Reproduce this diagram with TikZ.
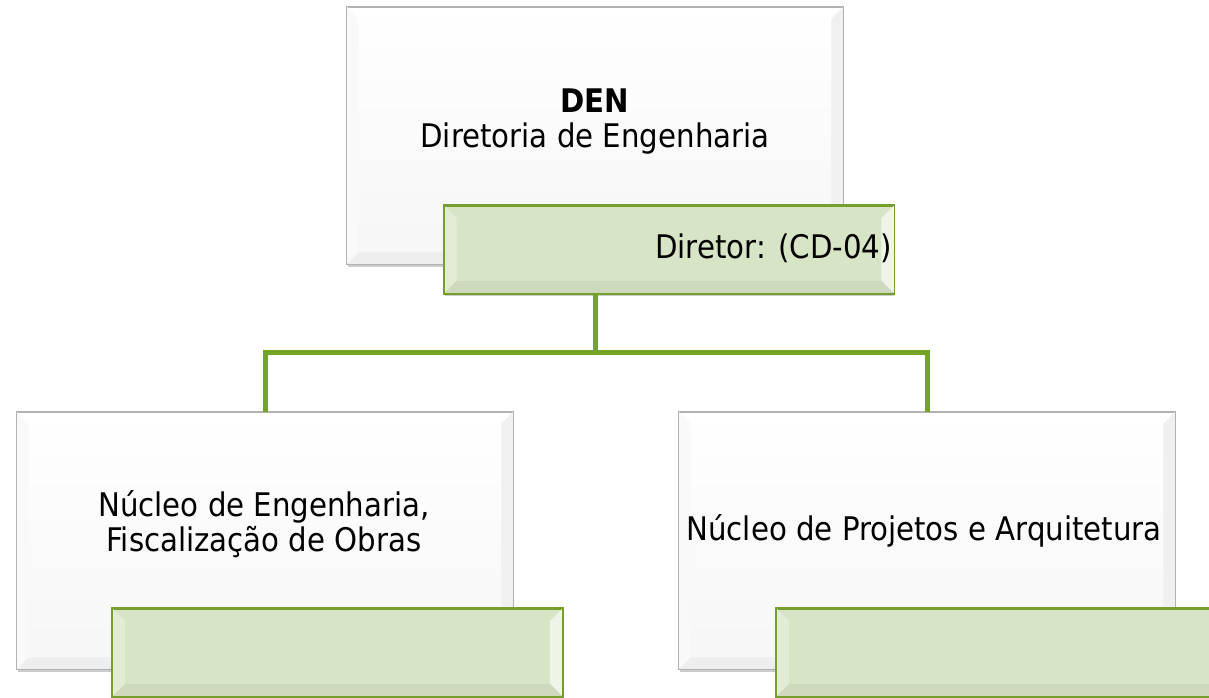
\documentclass[tikz,border=0pt]{standalone}
\usepackage{fontspec}
\setmainfont{DejaVu Sans Condensed}
\usetikzlibrary{shadows}

\begin{document}
\begin{tikzpicture}[x=1pt,y=-1pt,
    caixa/.style={rectangle,draw=cborde,line width=0.8pt,top color=white,bottom color=gray!7,
        minimum width=496pt,minimum height=257pt,inner sep=0pt,
        drop shadow={shadow xshift=0.5pt,shadow yshift=-3pt,opacity=0.4}},
    faixa/.style={rectangle,draw=vborde,line width=1.6pt,fill=vclaro,
        minimum width=449pt,minimum height=87pt,inner sep=0pt,
        drop shadow={shadow xshift=0.5pt,shadow yshift=-3pt,opacity=0.4}},
    texto/.style={align=center,inner sep=0pt,font=\fontsize{32.5}{35}\selectfont},
    conector/.style={vlinea,line width=5pt}]
        %colores
        \colorlet{cborde}{gray!60}
        \definecolor{vborde}{RGB}{118,158,44}
        \definecolor{vclaro}{RGB}{216,228,198}
        \definecolor{vlinea}{RGB}{116,164,38}

        \useasboundingbox (0,0) rectangle (1209,698);

        % Cajas blancas
        \node[caixa] (den) at (595,135.5) {};
        \node[caixa] (nuc1) at (265,540.5) {};
        \node[caixa] (nuc2) at (927,540.5) {};

        % Bisel de las cajas
        \foreach \n/\iz/\de/\ab/\d in {den/gray!5/gray!12/gray!13/12,
                nuc1/gray!5/gray!12/gray!13/12, nuc2/gray!5/gray!12/gray!13/12}{
            \fill[\iz] (\n.north west) -- ([shift={(\d,\d)}]\n.north west) -- ([shift={(\d,-\d)}]\n.south west) -- (\n.south west) -- cycle;
            \fill[\de] (\n.north east) -- ([shift={(-\d,\d)}]\n.north east) -- ([shift={(-\d,-\d)}]\n.south east) -- (\n.south east) -- cycle;
            \fill[\ab] (\n.south west) -- ([shift={(\d,-\d)}]\n.south west) -- ([shift={(-\d,-\d)}]\n.south east) -- (\n.south east) -- cycle;
            \draw[cborde,line width=0.8pt] (\n.north west) rectangle (\n.south east);
        }

        % Cajas verdes
        \node[faixa] (dir) at (669,249.5) {};
        \node[faixa] (fx1) at (337.5,652.5) {};
        \node[faixa] (fx2) at (1001.5,652.5) {};
        \foreach \n in {dir,fx1,fx2}{
            \fill[vclaro!75!white] (\n.north west) -- ([shift={(13,13)}]\n.north west) -- ([shift={(13,-13)}]\n.south west) -- (\n.south west) -- cycle;
            \fill[vclaro!40!white] (\n.north east) -- ([shift={(-13,13)}]\n.north east) -- ([shift={(-13,-13)}]\n.south east) -- (\n.south east) -- cycle;
            \fill[vclaro!95!black] (\n.south west) -- ([shift={(13,-13)}]\n.south west) -- ([shift={(-13,-13)}]\n.south east) -- (\n.south east) -- cycle;
            \draw[vborde,line width=1.6pt] (\n.north west) rectangle (\n.south east);
        }

        % Conectores
        \draw[conector] (den.south |- dir.south) -- ++(0,59) coordinate (ramo) -| (nuc1.north);
        \draw[conector] (ramo) -| (nuc2.north);

        % Textos
        \node[texto] (dentxt) at (595,122) {\textbf{DEN}\\Diretoria de Engenharia};
        \node[texto,anchor=base east] (dirtxt) at (892,258) {Diretor: (CD-04)};
        \node[texto] (nuc1txt) at (264,524) {Núcleo de Engenharia,\\Fiscalização de Obras};
        \node[texto,anchor=base] (nuc2txt) at (924,540) {Núcleo de Projetos e Arquitetura};
    \end{tikzpicture}
\end{document}
